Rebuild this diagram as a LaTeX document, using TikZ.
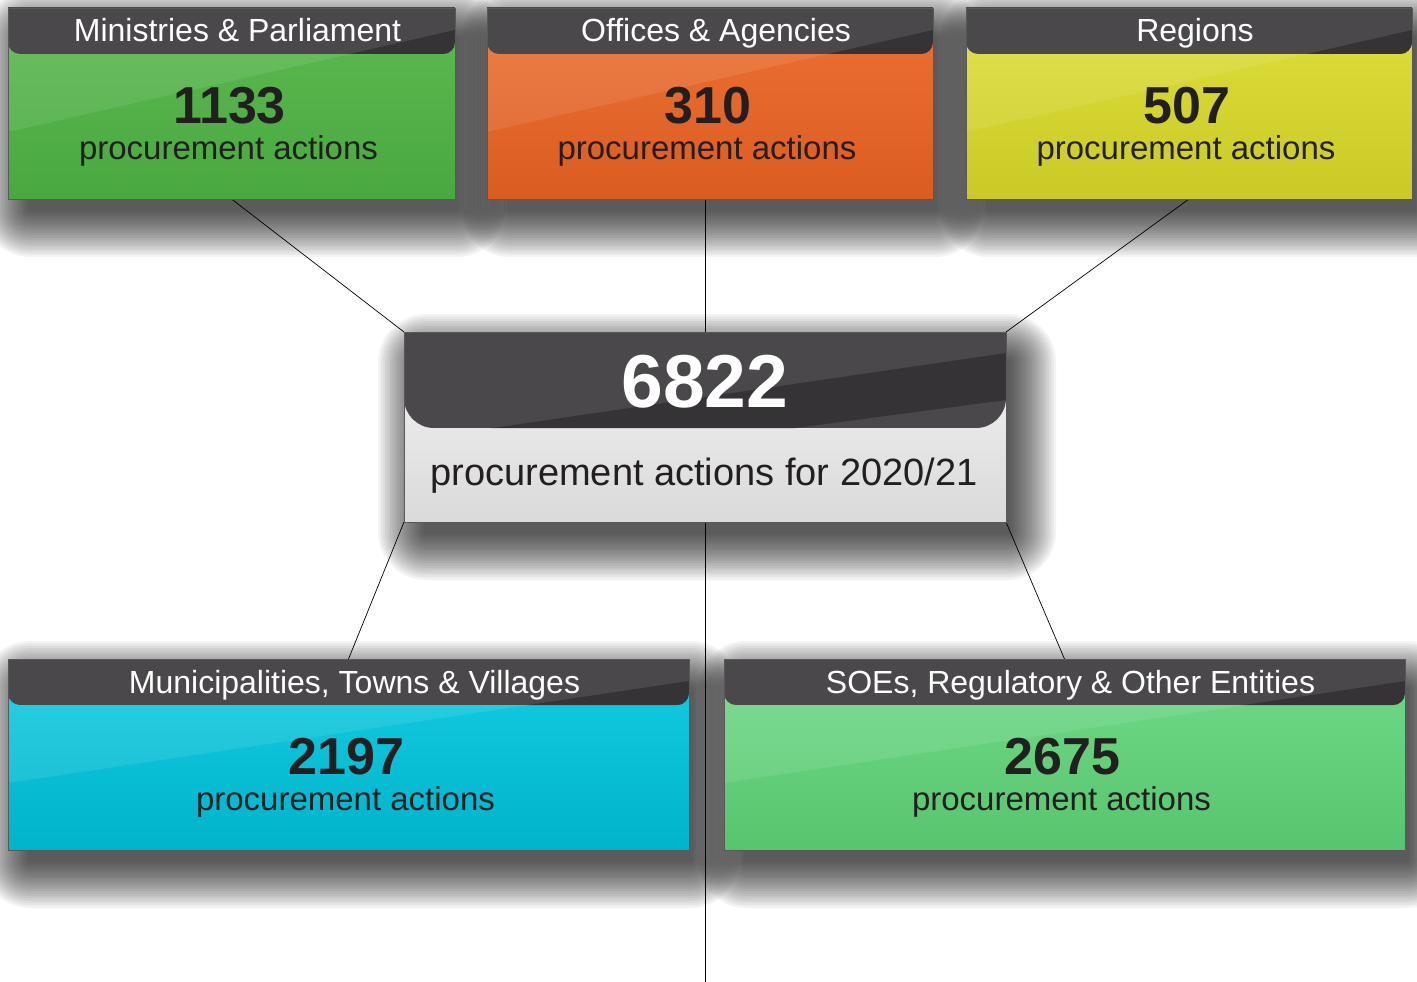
\documentclass[tikz,border=0pt]{standalone}
\usepackage{fontspec}
\setmainfont{Liberation Sans}
\usetikzlibrary{calc}
\pgfdeclarelayer{bg}
\pgfdeclarelayer{shadowlayer}
\pgfdeclarelayer{lines}
\pgfsetlayers{bg,shadowlayer,lines,main}

\definecolor{hdr}{HTML}{4A484B}
\definecolor{hdrdark}{HTML}{363336}
\definecolor{txt}{HTML}{231F20}
\definecolor{gA}{HTML}{5CBA51}\definecolor{gB}{HTML}{49A83F}
\definecolor{oA}{HTML}{EC7134}\definecolor{oB}{HTML}{DB5C21}
\definecolor{yA}{HTML}{DEDF3A}\definecolor{yB}{HTML}{CACA26}
\definecolor{cA}{HTML}{14CDE3}\definecolor{cB}{HTML}{00B4CA}
\definecolor{lA}{HTML}{70DC8A}\definecolor{lB}{HTML}{58C46E}
\definecolor{wA}{HTML}{F4F4F4}\definecolor{wB}{HTML}{DADADA}

\tikzset{
  pbox/.style={draw=black!65, line width=0.6pt, inner sep=0pt, outer sep=0pt, anchor=north west},
  ttl/.style={text=white, font=\fontsize{32}{38}\selectfont, anchor=base, inner sep=0pt},
  num/.style={text=txt, font=\fontsize{52}{60}\selectfont\bfseries, anchor=base, inner sep=0pt},
  sub/.style={text=txt, font=\fontsize{33}{38}\selectfont, anchor=base, inner sep=0pt},
  bignum/.style={text=white, font=\fontsize{75}{80}\selectfont\bfseries, anchor=base, inner sep=0pt},
  bigsub/.style={text=txt, font=\fontsize{38}{44}\selectfont, anchor=base, inner sep=0pt},
  conn/.style={draw=black, line width=0.7pt},
  boxborder/.style={draw=black!65, line width=0.6pt},
}

% shadow: #1 x, #2 y, #3 w, #4 h
\newcommand\pshadow[4]{%
  \begin{pgfonlayer}{shadowlayer}
  \foreach \i [evaluate=\i as \r using 2.4*\i-10] in {1,...,20}{%
    \fill[black,opacity=0.048,rounded corners=\r pt+10pt]
      (#1+12-\r, #2+20-\r) rectangle (#1+#3+12+\r, #2+#4+20+\r);}
  \end{pgfonlayer}}

% #1 name #2 x #3 y #4 w #5 h #6 top #7 bottom #8 title #9 number
\newcommand\pbox[9]{%
  \pshadow{#2}{#3}{#4}{#5}
  \node[pbox, minimum width=#4 pt, minimum height=#5 pt, top color=#6, bottom color=#7] (#1) at (#2,#3) {};
  \fill[white,opacity=0.09] (#2,#3) -- (#2,#3+124) -- (#2+#4,#3+22) -- (#2+#4,#3) -- cycle;
  \begin{scope}
    \clip (#2,#3) rectangle (#2+#4,#3+46);
    \clip[rounded corners=12pt] (#2,#3-20) rectangle (#2+#4,#3+46);
    \fill[hdr] (#2,#3-20) rectangle (#2+#4,#3+46);
    \fill[hdrdark] (#2,#3+124) -- (#2+#4,#3+22) -- (#2+#4,#3+60) -- (#2,#3+160) -- cycle;
  \end{scope}
  \draw[boxborder] (#1.north west) rectangle (#1.south east);
  \node[ttl] (#1-t) at (#2+#4/2+6,#3+34) {#8};
  \node[num] (#1-n) at (#2+#4/2-2,#3+115) {#9};
  \node[sub] (#1-s) at (#2+#4/2-3,#3+151) {procurement actions};
}

\begin{document}
\begin{tikzpicture}[x=1pt,y=-1pt]
\begin{pgfonlayer}{bg}
  \fill[white] (0,0) rectangle (1417,982);
\end{pgfonlayer}
\useasboundingbox (0,0) rectangle (1417,982);

\pbox{b1}{8}{8}{447}{191}{gA}{gB}{Ministries \& Parliament}{1133}
\pbox{b2}{487}{8}{446}{191}{oA}{oB}{Offices \& Agencies}{310}
\pbox{b3}{966}{8}{446}{191}{yA}{yB}{Regions}{507}
\pbox{b4}{8}{659}{681}{191}{cA}{cB}{Municipalities, Towns \& Villages}{2197}
\pbox{b5}{724}{659}{681}{191}{lA}{lB}{SOEs, Regulatory \& Other Entities}{2675}

% centre box
\pshadow{404}{332}{602}{190}
\node[pbox, minimum width=602pt, minimum height=190pt, top color=wA, bottom color=wB] (c) at (404,332) {};
\begin{scope}
  \clip (404,332) rectangle (1006,428);
  \clip[rounded corners=30pt] (404,280) rectangle (1006,428);
  \fill[hdr] (404,280) rectangle (1006,428);
  \fill[hdrdark] (404,441) -- (1006,353) -- (1006,400) -- (404,480) -- cycle;
\end{scope}
\draw[boxborder] (c.north west) rectangle (c.south east);
\node[bignum] (c-n) at (705,407) {6822};
\node[bigsub] (c-s) at (704,485) {procurement actions for 2020/21};

\coordinate (bot) at (705,982);

\begin{pgfonlayer}{lines}
  \draw[conn] (b1.south) -- (c.north west);
  \draw[conn] (c.north) -- (c.north |- b2.south);
  \draw[conn] (b3.south) -- (c.north east);
  \draw[conn] (c.south west) -- (b4.north);
  \draw[conn] (c.south) -- (bot);
  \draw[conn] (c.south east) -- (b5.north);
\end{pgfonlayer}
\end{tikzpicture}
\end{document}
